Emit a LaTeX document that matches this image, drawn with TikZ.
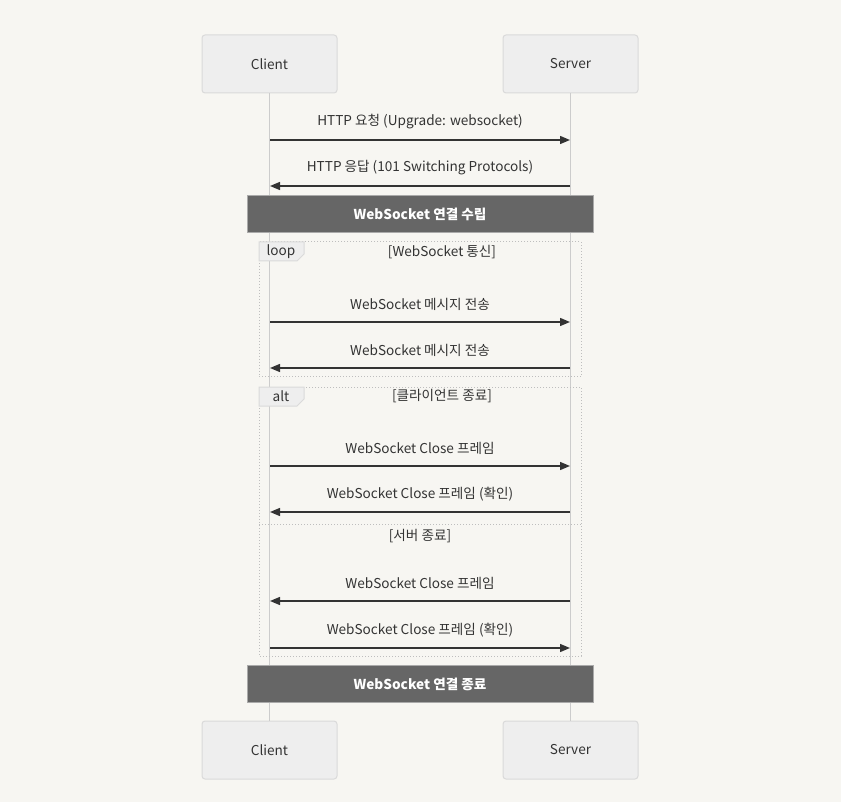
\documentclass[tikz,border=0pt]{standalone}
\usepackage{fontspec}
\setmainfont{Noto Sans CJK KR}
\usetikzlibrary{arrows.meta,positioning,calc}
\definecolor{pagebg}{RGB}{247,246,242}
\definecolor{actorfill}{RGB}{238,238,238}
\definecolor{actorline}{RGB}{218,218,218}
\definecolor{lifecol}{RGB}{204,204,204}
\definecolor{msgcol}{RGB}{51,51,51}
\definecolor{notefill}{RGB}{102,102,102}
\definecolor{noteline}{RGB}{170,170,170}
\definecolor{framecol}{RGB}{190,190,190}

\begin{document}
\begin{tikzpicture}[x=1pt,y=-1pt,
    font=\fontsize{13.6}{16}\selectfont,
    actor/.style={draw=actorline,fill=actorfill,rounded corners=3pt,
      minimum width=135pt,minimum height=58pt,line width=1pt,text=msgcol},
    lifeline/.style={draw=lifecol,line width=1.5pt},
    msg/.style={draw=msgcol,line width=1.4pt,-{Triangle[length=10pt,width=8pt]}},
    msglabel/.style={midway,yshift=18pt,text=msgcol},
    notebox/.style={draw=noteline,fill=notefill,line width=1pt,
      minimum width=346pt,minimum height=37pt,text=white,font=\fontsize{13.6}{16}\selectfont\bfseries},
    frame/.style={draw=framecol,line width=1pt,dotted},
    tab/.style={draw=actorline,fill=actorfill,line width=1pt},
    cond/.style={text=msgcol}]

  % page
  \fill[pagebg] (0,0) rectangle (841,802);
  \useasboundingbox (0,0) rectangle (841,802);

  % actors
  \node[actor] (client)  at (269.5,64)  {Client};
  \node[actor] (server)  at (570.5,64)  {Server};
  \node[actor] (client2) at (269.5,750) {Client};
  \node[actor] (server2) at (570.5,750) {Server};

  \draw[lifeline] (client.south) -- (client2.north);
  \draw[lifeline] (server.south) -- (server2.north);

  % message rows
  \foreach \i/\y in {1/140,2/186,3/322,4/368,5/466,6/512,7/601,8/648} {
    \coordinate (c\i) at (270,\y);
    \coordinate (s\i) at (570,\y);
  }

  % frames
  \draw[frame] (259,242) rectangle (581,377);
  \draw[tab] (259,242) -- (304,242) -- (304,254) -- (297,261) -- (259,261) -- cycle;
  \node[cond] (looptag) at (281,252) {loop};
  \node[cond] (loopcond) at (442,252) {[WebSocket 통신]};

  \draw[frame] (259,387) rectangle (581,656);
  \draw[frame] (259,524) -- (581,524);
  \draw[tab] (259,387) -- (304,387) -- (304,399) -- (297,406) -- (259,406) -- cycle;
  \node[cond] (alttag) at (281,396) {alt};
  \node[cond] (altcond) at (442,396) {[클라이언트 종료]};
  \node[cond] (elsecond) at (420,536) {[서버 종료]};

  % messages
  \draw[msg] (c1) -- node[msglabel] {HTTP 요청 (Upgrade: websocket)} (s1);
  \draw[msg] (s2) -- node[msglabel] {HTTP 응답 (101 Switching Protocols)} (c2);
  \draw[msg] (c3) -- node[msglabel] {WebSocket 메시지 전송} (s3);
  \draw[msg] (s4) -- node[msglabel] {WebSocket 메시지 전송} (c4);
  \draw[msg] (c5) -- node[msglabel] {WebSocket Close 프레임} (s5);
  \draw[msg] (s6) -- node[msglabel] {WebSocket Close 프레임 (확인)} (c6);
  \draw[msg] (s7) -- node[msglabel] {WebSocket Close 프레임} (c7);
  \draw[msg] (c8) -- node[msglabel] {WebSocket Close 프레임 (확인)} (s8);

  % notes
  \node[notebox] (open)  at (420,214.5) {WebSocket 연결 수립};
  \node[notebox] (close) at (420,684)   {WebSocket 연결 종료};
\end{tikzpicture}
\end{document}
